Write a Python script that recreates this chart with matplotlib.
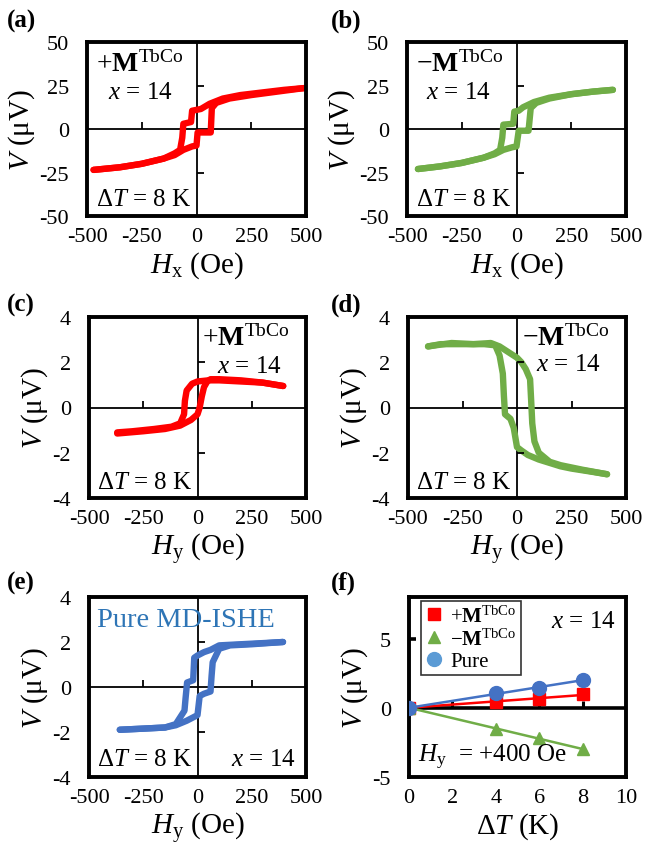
import numpy as np
import matplotlib
matplotlib.use("Agg")
import matplotlib.pyplot as plt

plt.rcParams['font.family'] = ['Liberation Serif', 'DejaVu Serif']
plt.rcParams['mathtext.fontset'] = 'custom'
plt.rcParams['mathtext.rm'] = 'Liberation Serif'
plt.rcParams['mathtext.it'] = 'Liberation Serif:italic'
plt.rcParams['mathtext.bf'] = 'Liberation Serif:bold'
plt.rcParams['axes.unicode_minus'] = False

RED = '#FF0000'
GREEN = '#70AD47'
BLUE = '#4472C4'
LBLUE = '#5B9BD5'

# (a) +M, H along x
a_down_h = [490, 400, 300, 200, 120, 60, 20, -20, -25, -60, -65, -75, -100, -150, -250, -350, -470]
a_down_v = [23.5, 22.5, 21, 19.5, 17.5, 14.5, 11.5, 10.5, 4, 3, -5, -12, -14, -17, -20, -22, -23.5]
a_up_h = [-470, -350, -250, -150, -100, -60, -20, 0, 5, 40, 65, 70, 90, 150, 250, 400, 490]
a_up_v = [-23.5, -22, -20, -17, -15, -12, -10, -9.5, -2, -2, -2, 12, 15, 17.5, 19.5, 22, 23.5]

# (b) -M, H along x
b_down_h = [440, 350, 250, 150, 80, 30, 10, -10, -15, -60, -65, -75, -100, -150, -250, -350, -450]
b_down_v = [22.5, 21.5, 20, 18, 15.5, 12.5, 10.5, 10, 3, 2.5, -5, -12, -14, -16.5, -19.5, -21.5, -23]
b_up_h = [-450, -350, -250, -150, -100, -60, -20, 0, 10, 40, 55, 65, 90, 150, 250, 350, 440]
b_up_v = [-23, -21.5, -19.5, -16.5, -14.5, -12, -10.5, -10, -1, -1, -1, 12, 15, 17.5, 20, 21.5, 22.5]

# (c) +M, H along y
c_down_h = [395, 300, 200, 100, 50, 0, -25, -50, -58, -62, -80, -120, -200, -300, -370]
c_down_v = [0.95, 1.1, 1.15, 1.2, 1.2, 1.15, 1.05, 0.75, 0.3, -0.3, -0.7, -0.85, -0.95, -1.05, -1.1]
c_up_h = [-370, -250, -150, -80, -30, 0, 10, 20, 30, 45, 60, 100, 200, 300, 395]
c_up_v = [-1.15, -1.05, -0.95, -0.8, -0.55, -0.3, 0.0, 0.5, 0.9, 1.15, 1.25, 1.25, 1.2, 1.1, 0.95]

# (d) -M, H along y
d_down_h = [413, 350, 250, 200, 150, 100, 50, 20, 0, -15, -30, -55, -60, -65, -80, -100, -150, -250, -350, -408]
d_down_v = [-2.95, -2.85, -2.7, -2.6, -2.45, -2.3, -2.1, -1.9, -1.75, -0.9, -0.5, -0.3, 0.5, 1.5, 2.3, 2.75, 2.8, 2.8, 2.8, 2.7]
d_up_h = [-408, -300, -200, -120, -80, -40, 0, 20, 40, 60, 65, 70, 80, 100, 150, 200, 300, 413]
d_up_v = [2.7, 2.85, 2.8, 2.85, 2.7, 2.45, 2.2, 2.0, 1.7, 1.25, 0.3, -0.7, -1.5, -2.0, -2.4, -2.55, -2.75, -2.95]

# (e) pure MD-ISHE
e_down_h = [394, 300, 200, 100, 60, 30, 0, -15, -20, -48, -55, -60, -100, -150, -250, -358]
e_down_v = [2.0, 1.95, 1.9, 1.85, 1.65, 1.55, 1.4, 1.3, 0.3, 0.2, -0.5, -1.05, -1.65, -1.8, -1.85, -1.9]
e_up_h = [-358, -250, -150, -100, -50, 0, 10, 30, 60, 65, 70, 100, 150, 250, 394]
e_up_v = [-1.9, -1.85, -1.8, -1.7, -1.5, -1.25, -0.4, -0.3, -0.2, 0.5, 1.1, 1.7, 1.85, 1.9, 2.0]

# (f) V vs dT at Hy = +400 Oe
dT = [0, 4, 6, 8]
v_plus = [0, 0.45, 0.6, 1.0]
v_minus = [0, -1.5, -2.2, -3.0]
v_pure = [0, 1.05, 1.45, 2.0]

fig = plt.figure(figsize=(6.45, 8.53), dpi=100)
W, H = 645.0, 853.0
TICK_FS = 16
LAB_FS = 21
ANN_FS = 18


def rect(x0, x1, y0, y1):
    return [x0 / W, 1 - y1 / H, (x1 - x0) / W, (y1 - y0) / H]


def style_box(ax):
    for s in ax.spines.values():
        s.set_linewidth(2.8)
    ax.tick_params(length=0, labelsize=TICK_FS)
    ax.tick_params(axis='x', pad=8)
    ax.tick_params(axis='y', pad=13)


def loop_panel(r, loops, color, ylim, yticks, ytick_in, hsub):
    ax = fig.add_axes(r)
    for hh, vv in loops:
        ax.plot(hh, vv, color=color, lw=4.6, solid_joinstyle='round', solid_capstyle='round')
    ax.set_xlim(-500, 500)
    ax.set_ylim(*ylim)
    ax.set_xticks([-500, -250, 0, 250, 500])
    ax.set_yticks(yticks)
    ax.axhline(0, color='k', lw=1.3, zorder=1)
    ax.axvline(0, color='k', lw=1.3, zorder=1)
    ax.plot([-250, 250], [0, 0], ls='none', marker=2, ms=5, mew=1.3, color='k')
    ax.plot([0, 0], ytick_in, ls='none', marker=1, ms=5, mew=1.3, color='k')
    style_box(ax)
    ax.set_xlabel(r'$H_{\rm %s}$ (Oe)' % hsub, fontsize=LAB_FS, labelpad=2)
    ax.set_ylabel(r'$V$ (μV)', fontsize=LAB_FS, labelpad=2)
    return ax


# (a)
ax = loop_panel(rect(87, 306, 43, 217), [(a_down_h, a_down_v), (a_up_h, a_up_v)], RED,
                (-50, 50), [-50, -25, 0, 25, 50], [25, -25], 'x')
ax.text(0.04, 0.875, r'+$\mathbf{M}^{\rm TbCo}$', transform=ax.transAxes, fontsize=20, va='center')
ax.text(0.245, 0.71, r'$x$ = 14', transform=ax.transAxes, fontsize=ANN_FS, va='center', ha='center')
ax.text(0.04, 0.1, r'$\Delta T$ = 8 K', transform=ax.transAxes, fontsize=ANN_FS, va='center')

# (b)
ax = loop_panel(rect(407, 626, 43, 217), [(b_down_h, b_down_v), (b_up_h, b_up_v)], GREEN,
                (-50, 50), [-50, -25, 0, 25, 50], [25, -25], 'x')
ax.text(0.04, 0.875, r'−$\mathbf{M}^{\rm TbCo}$', transform=ax.transAxes, fontsize=20, va='center')
ax.text(0.235, 0.71, r'$x$ = 14', transform=ax.transAxes, fontsize=ANN_FS, va='center', ha='center')
ax.text(0.04, 0.1, r'$\Delta T$ = 8 K', transform=ax.transAxes, fontsize=ANN_FS, va='center')

# (c)
ax = loop_panel(rect(89, 306, 318, 499), [(c_down_h, c_down_v), (c_up_h, c_up_v)], RED,
                (-4, 4), [-4, -2, 0, 2, 4], [2, -2], 'y')
ax.text(0.52, 0.885, r'+$\mathbf{M}^{\rm TbCo}$', transform=ax.transAxes, fontsize=20, va='center')
ax.text(0.74, 0.73, r'$x$ = 14', transform=ax.transAxes, fontsize=ANN_FS, va='center', ha='center')
ax.text(0.035, 0.09, r'$\Delta T$ = 8 K', transform=ax.transAxes, fontsize=ANN_FS, va='center')

# (d)
ax = loop_panel(rect(408, 626, 318, 499), [(d_down_h, d_down_v), (d_up_h, d_up_v)], GREEN,
                (-4, 4), [-4, -2, 0, 2, 4], [2, -2], 'y')
ax.text(0.525, 0.885, r'−$\mathbf{M}^{\rm TbCo}$', transform=ax.transAxes, fontsize=20, va='center')
ax.text(0.735, 0.74, r'$x$ = 14', transform=ax.transAxes, fontsize=ANN_FS, va='center', ha='center')
ax.text(0.035, 0.09, r'$\Delta T$ = 8 K', transform=ax.transAxes, fontsize=ANN_FS, va='center')

# (e)
ax = loop_panel(rect(89, 306, 598, 778), [(e_down_h, e_down_v), (e_up_h, e_up_v)], BLUE,
                (-4, 4), [-4, -2, 0, 2, 4], [2, -2], 'y')
ax.text(0.035, 0.875, 'Pure MD-ISHE', transform=ax.transAxes, fontsize=20.5, va='center', color='#2E75B6')
ax.text(0.95, 0.1, r'$x$ = 14', transform=ax.transAxes, fontsize=ANN_FS, va='center', ha='right')
ax.text(0.035, 0.1, r'$\Delta T$ = 8 K', transform=ax.transAxes, fontsize=ANN_FS, va='center')

# (f)
ax = fig.add_axes(rect(409, 626, 598, 778))
dT_arr = np.array(dT, dtype=float)
for vals, col, mk, ms, lab in [
        (v_plus, RED, 's', 9, r'+$\mathbf{M}^{\rm TbCo}$'),
        (v_minus, GREEN, '^', 9, r'−$\mathbf{M}^{\rm TbCo}$'),
        (v_pure, BLUE, 'o', 10, 'Pure')]:
    vv = np.array(vals, dtype=float)
    slope = (dT_arr * vv).sum() / (dT_arr ** 2).sum()
    ax.plot([dT_arr[0], dT_arr[-1]], [0, slope * dT_arr[-1]], color=col, lw=1.8, zorder=2)
    ax.plot(dT_arr, vv, ls='none', marker=mk, ms=ms, color=col, zorder=3)
    ax.plot([], [], ls='none', marker=mk, ms=ms,
            color=(LBLUE if lab == 'Pure' else col), label=lab)
ax.set_xlim(0, 10)
ax.set_ylim(-5, 8)
ax.set_xticks([0, 2, 4, 6, 8, 10])
ax.set_yticks([-5, 0, 5])
ax.axhline(0, color='k', lw=2.6, zorder=1)
ax.plot([2, 4, 6, 8], [0, 0, 0, 0], ls='none', marker=2, ms=5, mew=2.2, color='k', zorder=1)
ax.plot([0], [5], ls='none', marker=1, ms=5, mew=2.6, color='k', clip_on=False)
style_box(ax)
ax.set_xlabel(r'$\Delta T$ (K)', fontsize=LAB_FS, labelpad=2)
ax.set_ylabel(r'$V$ (μV)', fontsize=LAB_FS, labelpad=2)
ax.text(0.95, 0.865, r'$x$ = 14', transform=ax.transAxes, fontsize=ANN_FS, va='center', ha='right')
ax.text(0.04, 0.115, r'$H_{\rm y}$  = +400 Oe', transform=ax.transAxes, fontsize=ANN_FS, va='center')
leg = ax.legend(loc='upper left', bbox_to_anchor=(0.055, 0.978), borderaxespad=0,
                fontsize=15, frameon=True, fancybox=False, handlelength=0.9,
                handletextpad=0.3, labelspacing=0.1, borderpad=0.2)
leg.get_frame().set_edgecolor('k')
leg.get_frame().set_linewidth(1.2)

# panel letters
for lab, x, y in [('(a)', 7, 21), ('(b)', 331, 21), ('(c)', 7, 305),
                  ('(d)', 331, 305), ('(e)', 7, 583), ('(f)', 331, 583)]:
    fig.text(x / W, 1 - y / H, lab, fontsize=18, fontweight='bold', va='center', ha='left')

fig.savefig('out.png', dpi=100)
